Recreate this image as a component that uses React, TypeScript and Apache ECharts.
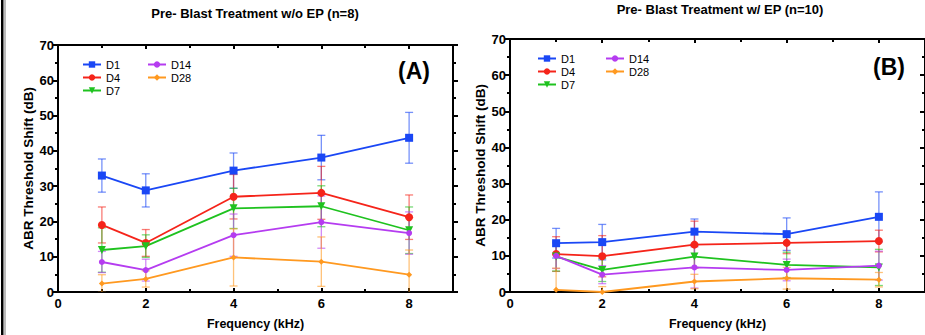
import React, { useEffect, useRef } from "react";
import * as echarts from "echarts";

const freqs = [1, 2, 4, 6, 8];
const seriesNames = ["D1", "D4", "D7", "D14", "D28"];

// Panel A: Pre- Blast Treatment w/o EP (n=8)
const A_D1 = [33.0, 28.8, 34.4, 38.1, 43.7];
const A_D1_err = [4.7, 4.7, 5.0, 6.3, 7.2];
const A_D4 = [19.0, 13.9, 27.0, 28.1, 21.2];
const A_D4_err = [5.1, 3.8, 6.3, 7.5, 6.3];
const A_D7 = [11.9, 13.0, 23.7, 24.3, 17.5];
const A_D7_err = [6.3, 3.2, 5.7, 5.8, 6.6];
const A_D14 = [8.5, 6.2, 16.1, 19.8, 16.7];
const A_D14_err = [3.0, 3.1, 6.0, 7.4, 6.0];
const A_D28 = [2.4, 3.7, 9.8, 8.6, 4.9];
const A_D28_err = [2.5, 2.3, 8.1, 7.0, 7.0];

// Panel B: Pre- Blast Treatment w/ EP (n=10)
const B_D1 = [13.5, 13.8, 16.7, 16.0, 20.8];
const B_D1_err = [4.1, 4.9, 3.5, 4.5, 6.9];
const B_D4 = [10.5, 9.9, 13.1, 13.6, 14.1];
const B_D4_err = [4.8, 5.7, 6.5, 3.0, 3.0];
const B_D7 = [9.8, 6.1, 9.8, 7.5, 6.8];
const B_D7_err = [4.0, 3.2, 3.0, 3.5, 5.0];
const B_D14 = [10.0, 4.8, 6.8, 6.1, 7.3];
const B_D14_err = [3.5, 2.5, 5.7, 3.0, 4.0];
const B_D28 = [0.6, 0.0, 2.9, 3.8, 3.4];
const B_D28_err = [6.0, 1.5, 2.0, 3.0, 2.0];

const yTicks = [0, 70, 10];
const xTicks = [0, 9, 2];

const colors = ["#1a47f5", "#f5241a", "#1fc21f", "#b53cf0", "#ff9920"];
const symbols = ["rect", "circle", "triangle", "circle", "diamond"];
const symbolSizes = [8, 8, 8, 6, 6];
const symbolRotates = [0, 0, 180, 0, 0];

const panelA = [A_D1, A_D4, A_D7, A_D14, A_D28];
const panelAErr = [A_D1_err, A_D4_err, A_D7_err, A_D14_err, A_D28_err];
const panelB = [B_D1, B_D4, B_D7, B_D14, B_D28];
const panelBErr = [B_D1_err, B_D4_err, B_D7_err, B_D14_err, B_D28_err];

const FONT = "'Liberation Sans', Arial, Helvetica, sans-serif";

function buildSeries(panel: number[][], errs: number[][], xIdx: number, yIdx: number) {
  const out: any[] = [];
  panel.forEach((vals, i) => {
    const color = colors[i];
    out.push({
      type: "custom",
      name: seriesNames[i] + "_err",
      xAxisIndex: xIdx,
      yAxisIndex: yIdx,
      clip: true,
      z: 1,
      silent: true,
      data: freqs.map((f, k) => [f, vals[k], errs[i][k]]),
      encode: { x: 0, y: 1 },
      renderItem: (params: any, api: any) => {
        const x = api.value(0);
        const y = api.value(1);
        const e = api.value(2);
        const top = api.coord([x, y + e]);
        const bot = api.coord([x, y - e]);
        const hw = 4;
        const style = { stroke: color, lineWidth: 1.3, opacity: 0.6 };
        return {
          type: "group",
          children: [
            { type: "line", shape: { x1: top[0], y1: top[1], x2: bot[0], y2: bot[1] }, style },
            { type: "line", shape: { x1: top[0] - hw, y1: top[1], x2: top[0] + hw, y2: top[1] }, style },
            { type: "line", shape: { x1: bot[0] - hw, y1: bot[1], x2: bot[0] + hw, y2: bot[1] }, style },
          ],
        };
      },
    });
    out.push({
      type: "line",
      name: seriesNames[i],
      xAxisIndex: xIdx,
      yAxisIndex: yIdx,
      z: 3,
      data: freqs.map((f, k) => [f, vals[k]]),
      symbol: symbols[i],
      symbolSize: symbolSizes[i],
      symbolRotate: symbolRotates[i],
      showAllSymbol: true,
      itemStyle: { color },
      lineStyle: { color, width: 1.8 },
    });
  });
  return out;
}

function bottomX(gridIndex: number) {
  return {
    type: "value",
    gridIndex,
    position: "bottom",
    min: xTicks[0],
    max: xTicks[1],
    interval: xTicks[2],
    axisLine: { show: true, onZero: false, lineStyle: { color: "#000", width: 2 } },
    axisTick: { show: true, inside: true, length: 4, lineStyle: { color: "#000", width: 2 } },
    minorTick: { show: true, splitNumber: 2, length: 3, lineStyle: { color: "#000", width: 2 } },
    axisLabel: { color: "#000", fontWeight: "bold", fontSize: 13, fontFamily: FONT, margin: 5, showMaxLabel: false },
    splitLine: { show: false },
    name: "Frequency (kHz)",
    nameLocation: "middle",
    nameGap: 25,
    nameTextStyle: { color: "#000", fontWeight: "bold", fontSize: 12.5, fontFamily: FONT },
  };
}

function topX(gridIndex: number) {
  return {
    type: "value",
    gridIndex,
    position: "top",
    min: xTicks[0],
    max: xTicks[1],
    interval: xTicks[2],
    axisLine: { show: true, onZero: false, lineStyle: { color: "#000", width: 2 } },
    axisTick: { show: true, inside: true, length: 4, lineStyle: { color: "#000", width: 2 } },
    minorTick: { show: true, splitNumber: 2, length: 3, lineStyle: { color: "#000", width: 2 } },
    axisLabel: { show: false },
    splitLine: { show: false },
  };
}

function leftY(gridIndex: number) {
  return {
    type: "value",
    gridIndex,
    position: "left",
    min: yTicks[0],
    max: yTicks[1],
    interval: yTicks[2],
    axisLine: { show: true, onZero: false, lineStyle: { color: "#000", width: 2 } },
    axisTick: { show: true, length: 5, lineStyle: { color: "#000", width: 2 } },
    minorTick: { show: true, splitNumber: 2, length: 3, lineStyle: { color: "#000", width: 2 } },
    axisLabel: { color: "#000", fontWeight: "bold", fontSize: 13, fontFamily: FONT, margin: 4 },
    splitLine: { show: false },
    name: "ABR Threshold Shift (dB)",
    nameLocation: "middle",
    nameGap: 21,
    nameRotate: 90,
    nameTextStyle: { color: "#000", fontWeight: "bold", fontSize: 13.5, fontFamily: FONT },
  };
}

function rightY(gridIndex: number, inside: boolean) {
  return {
    type: "value",
    gridIndex,
    position: "right",
    min: yTicks[0],
    max: yTicks[1],
    interval: yTicks[2],
    axisLine: { show: true, onZero: false, lineStyle: { color: "#000", width: 2 } },
    axisTick: { show: true, inside, length: 5, lineStyle: { color: "#000", width: 2 } },
    minorTick: { show: true, splitNumber: 2, length: 3, lineStyle: { color: "#000", width: 2 } },
    axisLabel: { show: false },
    splitLine: { show: false },
  };
}

function legend(left: number, top: number, names: string[]) {
  return {
    show: true,
    orient: "vertical",
    left,
    top,
    padding: 0,
    data: names,
    itemWidth: 18,
    itemHeight: 8,
    itemGap: 2,
    selectedMode: false,
    textStyle: { color: "#000", fontSize: 11, fontFamily: FONT },
  };
}

export default function App() {
  const ref = useRef<HTMLDivElement>(null);
  useEffect(() => {
    if (!ref.current) return;
    const chart = echarts.init(ref.current, null, { renderer: "svg" });
    const option: any = {
      animation: false,
      backgroundColor: "#fff",
      title: [
        {
          text: "Pre- Blast Treatment w/o EP (n=8)",
          left: 255,
          top: 7,
          padding: 0,
          textAlign: "center",
          textStyle: { color: "#000", fontWeight: "bold", fontSize: 13, fontFamily: FONT },
        },
        {
          text: "Pre- Blast Treatment w/ EP (n=10)",
          left: 720,
          top: 3,
          padding: 0,
          textAlign: "center",
          textStyle: { color: "#000", fontWeight: "bold", fontSize: 13, fontFamily: FONT },
        },
      ],
      legend: [
        legend(82, 59, ["D1", "D4", "D7"]),
        legend(147, 59, ["D14", "D28"]),
        legend(537, 53, ["D1", "D4", "D7"]),
        legend(605, 53, ["D14", "D28"]),
      ],
      grid: [
        { left: 58, top: 45, width: 395, height: 251, containLabel: false },
        { left: 510, top: 39, width: 417, height: 255, containLabel: false },
      ],
      xAxis: [bottomX(0), topX(0), bottomX(1), topX(1)],
      yAxis: [leftY(0), rightY(0, false), leftY(1), rightY(1, true)],
      graphic: [
        { type: "rect", shape: { x: 1, y: 0, width: 2.5, height: 335 }, style: { fill: "#000" } },
        { type: "line", shape: { x1: 5, y1: 0, x2: 5, y2: 335 }, style: { stroke: "#555", lineWidth: 0.8 } },
        {
          type: "text",
          left: 398,
          top: 59,
          style: { text: "(A)", fill: "#000", font: "bold 23px " + FONT },
        },
        {
          type: "text",
          left: 873,
          top: 55,
          style: { text: "(B)", fill: "#000", font: "bold 23px " + FONT },
        },
      ],
      series: [...buildSeries(panelA, panelAErr, 0, 0), ...buildSeries(panelB, panelBErr, 2, 2)],
    };
    chart.setOption(option);
    return () => chart.dispose();
  }, []);
  return (
    <div
      ref={ref}
      style={{ position: "fixed", left: 0, top: 0, width: 925, height: 335, background: "#fff" }}
    />
  );
}
